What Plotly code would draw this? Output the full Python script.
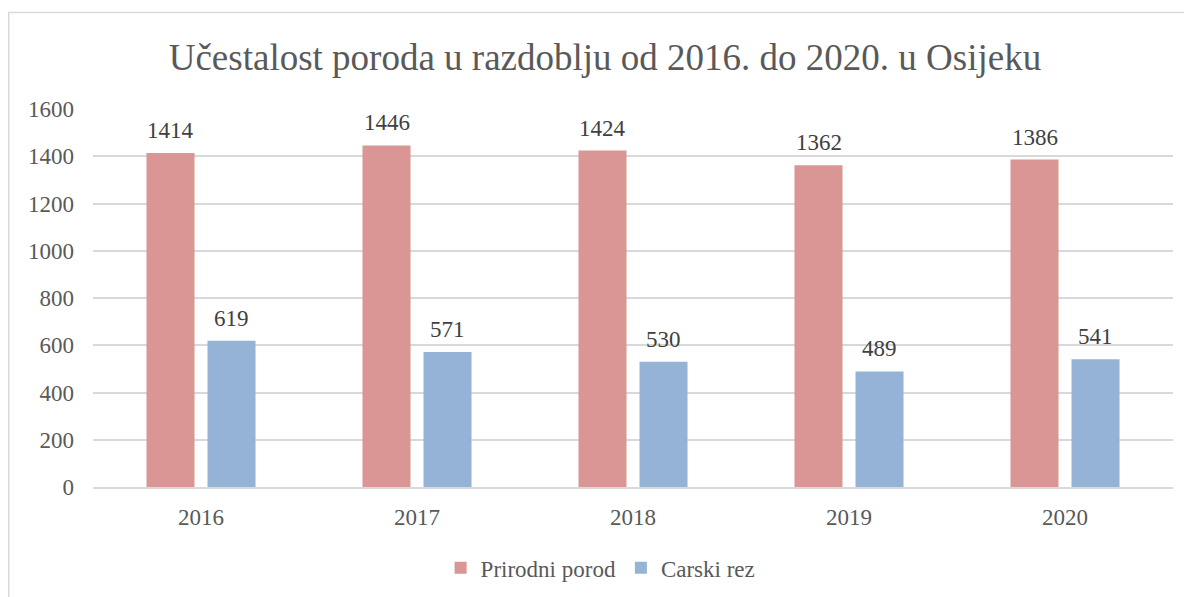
"""Bar chart: births by delivery type in Osijek, 2016-2020"""

import plotly.graph_objects as go

years = ["2016", "2017", "2018", "2019", "2020"]
prirodni = [1414, 1446, 1424, 1362, 1386]
carski = [619, 571, 530, 489, 541]
series_names = ["Prirodni porod", "Carski rez"]

TXT = "#595959"
FONT = "Liberation Serif, Times New Roman, serif"

fig = go.Figure()
fig.add_trace(go.Bar(x=years, y=prirodni, name=series_names[0], marker_color="#D99694",
                     marker_line_width=0))
fig.add_trace(go.Bar(x=years, y=carski, name=series_names[1], marker_color="#95B3D7",
                     marker_line_width=0))

# data labels above each bar (x given as category index so the axis stays categorical)
for vals, shift in ((prirodni, -30.5), (carski, 30.5)):
    for i, v in enumerate(vals):
        fig.add_annotation(x=i, y=v, text=str(v), showarrow=False, xshift=shift,
                           yanchor="bottom", yshift=8,
                           font=dict(family=FONT, size=23, color="#404040"))

# chart border (Excel style frame)
fig.add_shape(type="rect", xref="paper", yref="paper", x0=-0.078, x1=1.05, y0=-0.35, y1=1.2553,
              line=dict(color="#D9D9D9", width=1.5), layer="below")

# page has an 8px body margin, so everything is placed 8px up/left
fig.update_layout(
    width=1192, height=597,
    margin=dict(l=85, r=27, t=101, b=118, autoexpand=False),
    paper_bgcolor="white", plot_bgcolor="white",
    font=dict(family=FONT, color=TXT, size=23),
    title=dict(text="Učestalost poroda u razdoblju od 2016. do 2020. u Osijeku",
               x=0.5008, xanchor="center", y=0.918, yanchor="middle",
               font=dict(family=FONT, size=37, color=TXT)),
    barmode="group", bargap=0.435, bargroupgap=0.213,
    showlegend=True,
    legend=dict(orientation="h", x=0.47, xanchor="center", y=-0.214, yanchor="middle",
                font=dict(family=FONT, size=23, color=TXT), itemwidth=30),
)
fig.update_yaxes(range=[0, 1600], dtick=200, showgrid=True, gridcolor="#D9D9D9", gridwidth=1.5,
                 zeroline=False, showline=False, ticks="", ticklabelstandoff=18,
                 tickfont=dict(family=FONT, size=23, color=TXT))
fig.update_xaxes(type="category", showline=True, linecolor="#D9D9D9", linewidth=1.5, ticks="",
                 ticklabelstandoff=9, tickfont=dict(family=FONT, size=23, color=TXT))

fig.write_html("out.html")
